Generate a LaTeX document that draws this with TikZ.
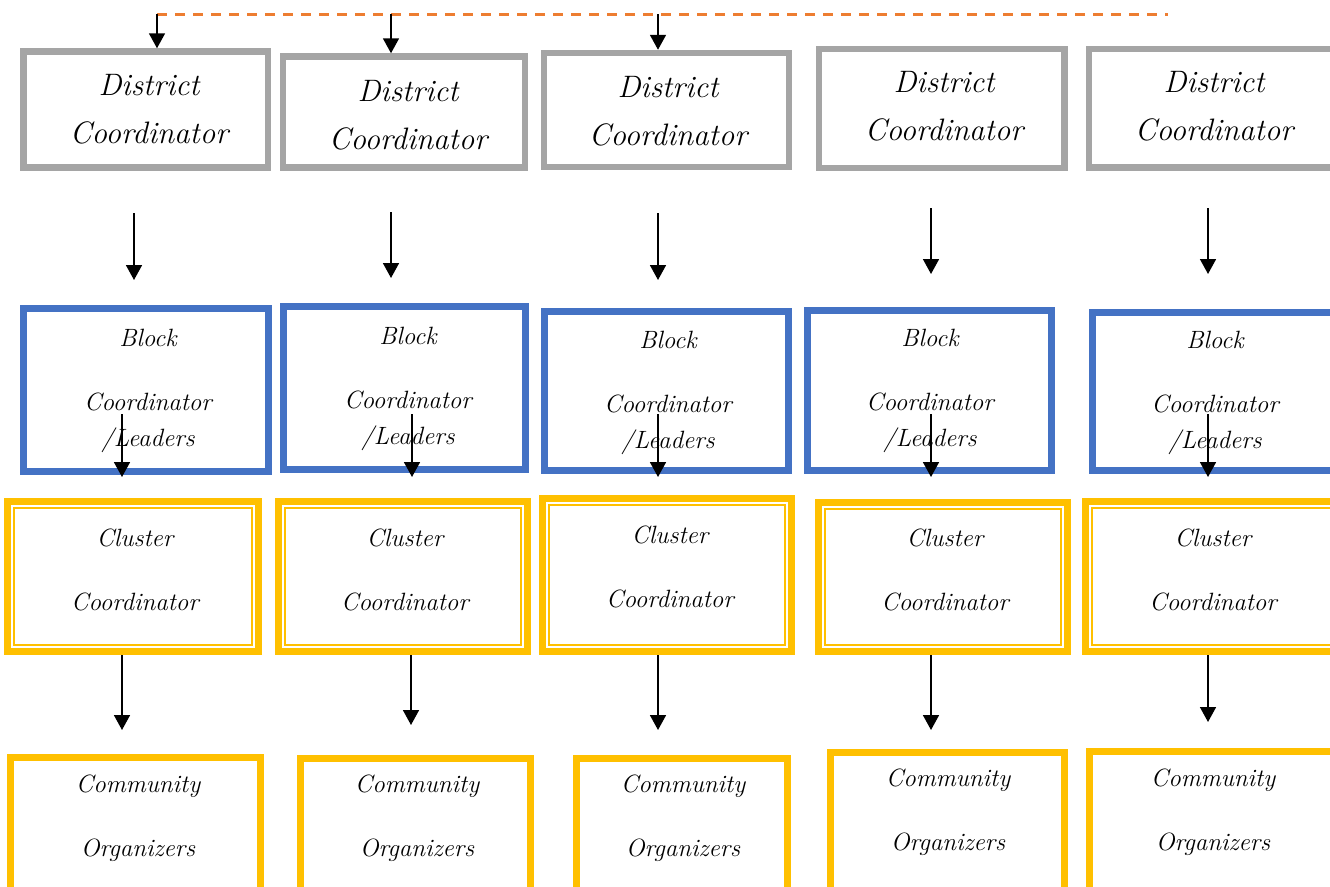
\documentclass[tikz,border=0pt]{standalone}
\usepackage{fontspec}
\usetikzlibrary{arrows.meta,calc}
\definecolor{dgray}{HTML}{A5A5A5}
\definecolor{bblue}{HTML}{4472C4}
\definecolor{yel}{HTML}{FFC000}
\definecolor{orng}{HTML}{ED7D31}
\newcommand{\mkbox}[6]{%
  \pgfmathsetmacro\bxc{(#3+#5)/2}\pgfmathsetmacro\byc{(#4+#6)/2}%
  \pgfmathsetmacro\bwd{#5-#3}\pgfmathsetmacro\bht{#6-#4}%
  \node[#2, minimum width=\bwd pt, minimum height=\bht pt] (#1) at (\bxc,\byc) {};}
\begin{document}
\begin{tikzpicture}[x=1pt,y=-1pt,
  dbox/.style={draw=dgray, line width=6.5pt, inner sep=0pt},
  bbox/.style={draw=bblue, line width=7pt, inner sep=0pt},
  cbox/.style={draw=yel, line width=7.5pt, inner sep=0pt},
  mbox/.style={draw=yel, line width=7pt, inner sep=0pt},
  dtxt/.style={font=\itshape\fontsize{31}{48}\selectfont, align=center, inner sep=0pt},
  stxt/.style={font=\itshape\fontsize{25}{36}\selectfont, align=center, inner sep=0pt},
  arr/.style={-{Triangle[width=16pt,length=15pt]}, line width=1.7pt, black},
  inner/.style={draw=yel, line width=2pt}]
\useasboundingbox (0,0) rectangle (1330,886);
\clip (0,0) rectangle (1330,886);

% District coordinators
\mkbox{d1}{dbox}{23.5}{51.5}{268}{167.5}
\mkbox{d2}{dbox}{283}{56.5}{525}{167.5}
\mkbox{d3}{dbox}{544}{53}{789}{167}
\mkbox{d4}{dbox}{819}{49}{1064.5}{168}
\mkbox{d5}{dbox}{1089}{49}{1345}{167.5}
\node[dtxt] (d1t) at (149,109) {District\\Coordinator};
\node[dtxt] (d2t) at (408,115) {District\\Coordinator};
\node[dtxt] (d3t) at (668,111) {District\\Coordinator};
\node[dtxt] (d4t) at (944,106) {District\\Coordinator};
\node[dtxt] (d5t) at (1214,106) {District\\Coordinator};

% Block coordinators
\mkbox{b1}{bbox}{23.5}{308.5}{268}{471.5}
\mkbox{b2}{bbox}{283}{306.5}{525}{469}
\mkbox{b3}{bbox}{544}{311}{788}{470}
\mkbox{b4}{bbox}{807}{310}{1051}{470}
\mkbox{b5}{bbox}{1092}{312}{1345}{470}
\node[stxt] (b1t) at (148,390.5) {Block\\[28pt]Coordinator\\/Leaders};
\node[stxt] (b2t) at (408,388.5) {Block\\[28pt]Coordinator\\/Leaders};
\node[stxt] (b3t) at (668,392.5) {Block\\[28pt]Coordinator\\/Leaders};
\node[stxt] (b4t) at (930,390.5) {Block\\[28pt]Coordinator\\/Leaders};
\node[stxt] (b5t) at (1215,392.5) {Block\\[28pt]Coordinator\\/Leaders};

% Cluster coordinators
\mkbox{c1}{cbox}{7.5}{501.5}{258.5}{651.5}
\mkbox{c2}{cbox}{278.5}{501.5}{527.5}{651.5}
\mkbox{c3}{cbox}{542.5}{498.5}{791.5}{651.5}
\mkbox{c4}{cbox}{818.5}{502.5}{1067.5}{651.5}
\mkbox{c5}{cbox}{1085.5}{501.5}{1345}{651.5}
\foreach \c in {c1,c2,c3,c4,c5}
  \draw[inner] ($(\c.north west)+(10.5,10.5)$) rectangle ($(\c.south east)+(-10.5,-10.5)$);
\node[stxt] (c1t) at (135,569.5) {Cluster\\[28pt]Coordinator};
\node[stxt] (c2t) at (405,569.5) {Cluster\\[28pt]Coordinator};
\node[stxt] (c3t) at (670,567) {Cluster\\[28pt]Coordinator};
\node[stxt] (c4t) at (945,569.5) {Cluster\\[28pt]Coordinator};
\node[stxt] (c5t) at (1213,569.5) {Cluster\\[28pt]Coordinator};

% Community organizers
\mkbox{m1}{mbox}{10.5}{757}{260.5}{895}
\mkbox{m2}{mbox}{300}{758}{530}{895}
\mkbox{m3}{mbox}{576}{758}{787}{895}
\mkbox{m4}{mbox}{830}{752}{1064}{895}
\mkbox{m5}{mbox}{1089}{751.5}{1345}{895}
\node[stxt] (m1t) at (138,818.5) {Community\\[28pt]Organizers};
\node[stxt] (m2t) at (417,818.5) {Community\\[28pt]Organizers};
\node[stxt] (m3t) at (683,818.5) {Community\\[28pt]Organizers};
\node[stxt] (m4t) at (948,812.5) {Community\\[28pt]Organizers};
\node[stxt] (m5t) at (1213,812.5) {Community\\[28pt]Organizers};

% dashed top line and arrows
\coordinate (dl) at (157,14);
\coordinate (dr) at (1168,14);
\draw[orng, line width=3pt, dash pattern=on 10pt off 8pt] (dl) -- (dr);
\coordinate (t1) at (157,14);
\coordinate (t2) at (391,14);
\coordinate (t3) at (658,14);
\draw[arr] (t1) -- (t1 |- d1.north);
\draw[arr] (t2) -- (t2 |- d2.north);
\draw[arr] (t3) -- (t3 |- d3.north);

% district -> block
\foreach \i/\x/\ya/\yb in {1/134/213/280, 2/391/212/278, 3/658/213/280, 4/931/208/274, 5/1208/208/274}{
  \coordinate (ds\i) at (\x,\ya);
  \coordinate (de\i) at (\x,\yb);
  \draw[arr] (ds\i) -- (de\i);
}
% block -> cluster
\foreach \i/\x in {1/122, 2/412, 3/658, 4/931, 5/1208}{
  \coordinate (bs\i) at (\x,414);
  \coordinate (be\i) at (\x,477);
  \draw[arr] (bs\i) -- (be\i);
}
% cluster -> community
\foreach \i/\x/\yb in {1/122/730, 2/411/725, 3/658/730, 4/931/730, 5/1208/722}{
  \coordinate (ce\i) at (\x,\yb);
  \draw[arr] (ce\i |- c\i.south) -- (ce\i);
}
\end{tikzpicture}
\end{document}
